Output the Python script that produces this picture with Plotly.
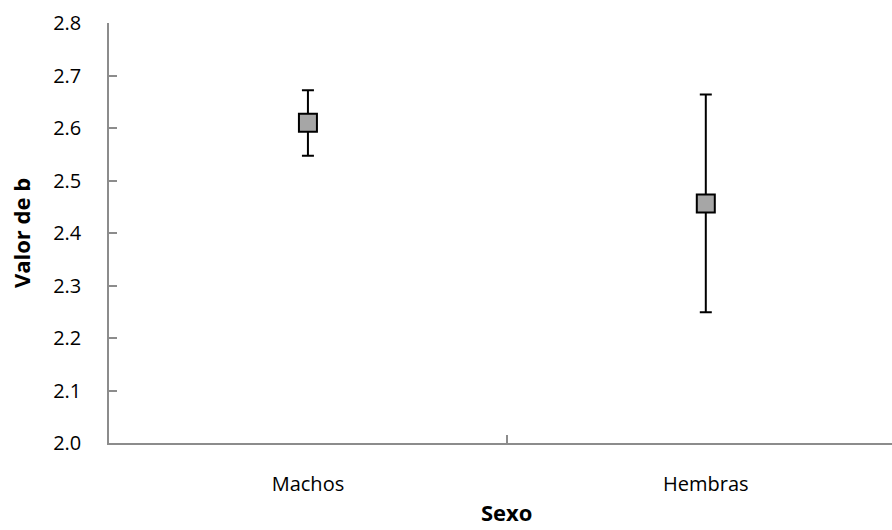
import plotly.graph_objects as go

categories = ["Machos", "Hembras"]
values = [2.610, 2.456]
err_plus = [0.062, 0.208]
err_minus = [0.063, 0.207]
y_ticks = [2.0, 2.1, 2.2, 2.3, 2.4, 2.5, 2.6, 2.7, 2.8]

FONT = "Open Sans"
AXIS_COLOR = "#8c8c8c"

fig = go.Figure()
fig.add_trace(go.Scatter(
    x=categories, y=values, mode="markers",
    marker=dict(symbol="square", size=18, color="#a6a6a6",
                line=dict(color="black", width=2)),
    error_y=dict(type="data", symmetric=False, array=err_plus,
                 arrayminus=err_minus, color="black", thickness=2, width=6),
    showlegend=False,
))

fig.update_layout(
    width=892, height=530,
    margin=dict(l=109, r=0, t=23, b=87),
    plot_bgcolor="white", paper_bgcolor="white",
    font=dict(family=FONT, size=20, color="black"),
    xaxis=dict(
        type="category", categoryorder="array", categoryarray=categories,
        range=[-0.5, 1.468], showline=True, linecolor=AXIS_COLOR, linewidth=1.5,
        ticks="inside", ticklen=8, tickcolor=AXIS_COLOR, tickwidth=1.5,
        tickson="boundaries", showgrid=False, zeroline=False,
        tickfont=dict(size=20), ticklabelstandoff=22,
    ),
    yaxis=dict(
        range=[2.0, 2.8], tickvals=y_ticks, ticktext=[f"{v:.1f}" for v in y_ticks],
        showline=True, linecolor=AXIS_COLOR, linewidth=1.5,
        ticks="inside", ticklen=8, tickcolor=AXIS_COLOR, tickwidth=1.5,
        showgrid=False, zeroline=False, tickfont=dict(size=20),
        ticklabelstandoff=22,
        title=dict(text="<b>Valor de b</b>", font=dict(size=22), standoff=16),
    ),
    annotations=[dict(
        text="<b>Sexo</b>", xref="x", yref="paper", x=0.5, y=-0.165,
        xanchor="center", yanchor="middle", showarrow=False,
        font=dict(size=22),
    )],
)

fig.write_html("out.html")
